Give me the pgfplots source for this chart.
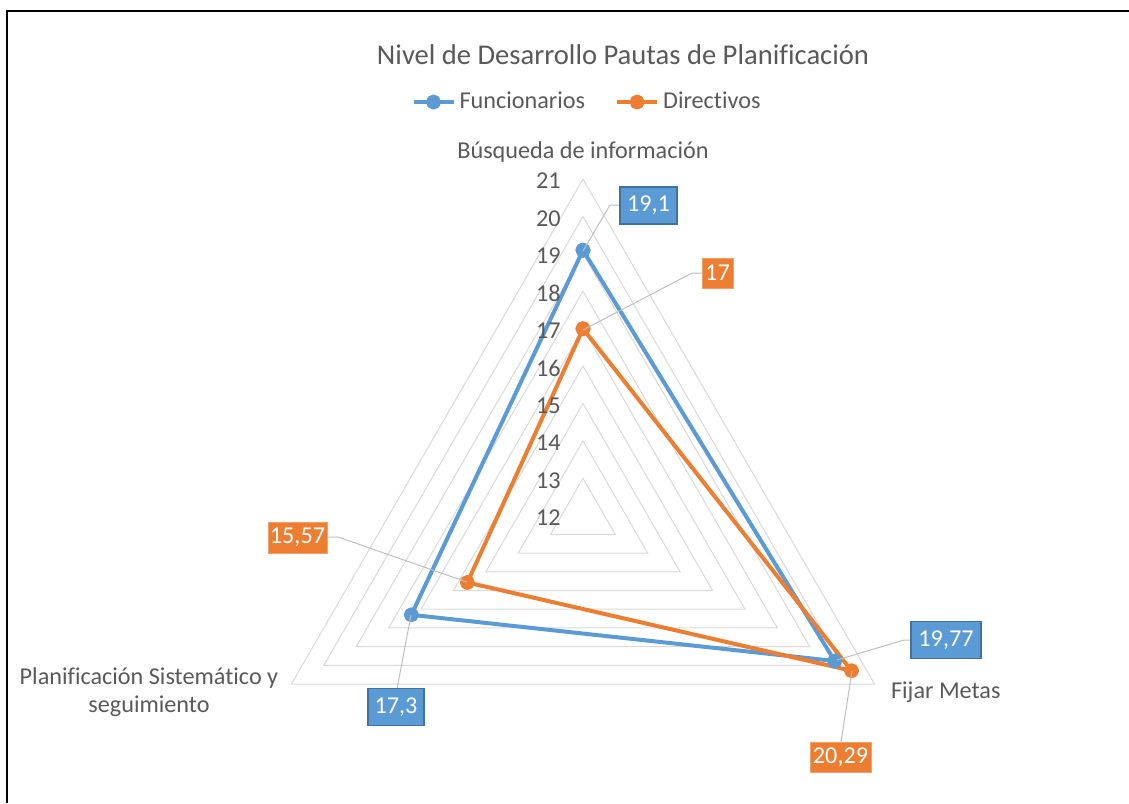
\documentclass[border=0pt]{standalone}
\usepackage{pgfplots}
\pgfplotsset{compat=1.18}
\usepackage{pgfplotstable}
\usepackage{fontspec}
\setmainfont{Carlito}[Ligatures={NoCommon}]
\definecolor{serblue}{HTML}{5B9BD5}
\definecolor{serorange}{HTML}{ED7D31}
\definecolor{bluebord}{HTML}{41719C}
\definecolor{orangebord}{HTML}{F4A06B}
\definecolor{textgray}{HTML}{595959}
\definecolor{gridgray}{HTML}{D9D9D9}
\definecolor{leadgray}{HTML}{BFBFBF}

\pgfplotstableread{
ang v
90 19.1
-30 19.77
210 17.3
90 19.1
}\funcionarios
\pgfplotstableread{
ang v
90 17
-30 20.29
210 15.57
90 17
}\directivos

\begin{document}
\begin{tikzpicture}
\path[use as bounding box] (0,0) rectangle (564.5pt,-401.5pt);
\begin{axis}[
  at={(291.5pt,-257.85pt)}, anchor=origin,
  x=18.7pt, y=18.7pt,
  xmin=-12, xmax=12, ymin=-8, ymax=12,
  hide axis, clip=false,
  legend columns=2,
  legend style={at={(0.5056,0.953)}, anchor=center, draw=none, fill=none,
    font=\fontsize{12.1pt}{14pt}\selectfont, text=textgray,
    /tikz/every even column/.append style={column sep=13pt},
    nodes={inner xsep=2pt}},
  legend image code/.code={\draw[#1, mark repeat=2, mark phase=2] plot coordinates {(0pt,0pt) (10pt,0pt) (20pt,0pt)};},
]
\pgfplotsinvokeforeach{1,...,9}{
  \addplot[gridgray, line width=0.5pt, forget plot] coordinates {(0,#1) ({-0.8660254*#1},{-0.5*#1}) ({0.8660254*#1},{-0.5*#1}) (0,#1)};
}
\addplot[serblue, line width=2pt, line join=round, mark=*, mark size=2.75pt, mark options={solid}]
  table[x expr={(\thisrow{v}-12)*cos(\thisrow{ang})}, y expr={(\thisrow{v}-12)*sin(\thisrow{ang})}] {\funcionarios};
\addplot[serorange, line width=2pt, line join=round, mark=*, mark size=2.75pt, mark options={solid}]
  table[x expr={(\thisrow{v}-12)*cos(\thisrow{ang})}, y expr={(\thisrow{v}-12)*sin(\thisrow{ang})}] {\directivos};
\legend{Funcionarios, Directivos}
\end{axis}
\begin{scope}[x=0.5pt, y=-0.5pt]
  % frame
  \draw[black, line width=1pt] (7,803) -- (7,11) -- (1129,11);
  % title
  \node[text=textgray, font=\fontsize{14.3pt}{17pt}\selectfont] at (623,55) {Nivel de Desarrollo Pautas de Planificación};
  % category labels
  \begin{scope}[every node/.style={text=textgray, font=\fontsize{12.1pt}{14pt}\selectfont}]
  \node at (583,152) {Búsqueda de información};
  \node[anchor=west] at (884,692) {Fijar Metas};
  \node[align=center] at (149,692) {Planificación Sistemático y\\seguimiento};
  \foreach \v in {12,...,21} {
    \node[anchor=east, inner xsep=0pt] at (561,{517.7-(\v-12)*37.4}) {\v};
  }
  \end{scope}
  % leader lines
  \begin{scope}[leadgray, line width=0.5pt]
  \draw (583,251) -- (610,205) -- (620,205);
  \draw (583,330) -- (692,273) -- (702,273);
  \draw (467,582) -- (338,537) -- (327,537);
  \draw (411,615) -- (397,689);
  \draw (837,660) -- (904,640) -- (911,640);
  \draw (852,671) -- (841,742);
  \end{scope}
  % data labels
  \begin{scope}[every node/.style={text=white, font=\fontsize{12.1pt}{14pt}\selectfont}]
  \node[fill=serblue, draw=bluebord, line width=0.75pt, minimum width=28.5pt, minimum height=18.5pt, inner sep=0pt] at (648.5,205.5) {19,1};
  \node[fill=serorange, draw=orangebord, line width=0.5pt, minimum width=15.5pt, minimum height=15pt, inner sep=0pt] at (717.5,273) {17};
  \node[fill=serorange, draw=orangebord, line width=0.5pt, minimum width=29.5pt, minimum height=15.5pt, inner sep=0pt] at (297.5,537.5) {15,57};
  \node[fill=serblue, draw=bluebord, line width=0.75pt, minimum width=28pt, minimum height=18.5pt, inner sep=0pt] at (396,707) {17,3};
  \node[fill=serblue, draw=bluebord, line width=0.75pt, minimum width=35pt, minimum height=18.5pt, inner sep=0pt] at (946,640) {19,77};
  \node[fill=serorange, draw=orangebord, line width=0.5pt, minimum width=30.5pt, minimum height=15pt, inner sep=0pt] at (840.5,757.5) {20,29};
  \end{scope}
\end{scope}
\end{tikzpicture}
\end{document}
